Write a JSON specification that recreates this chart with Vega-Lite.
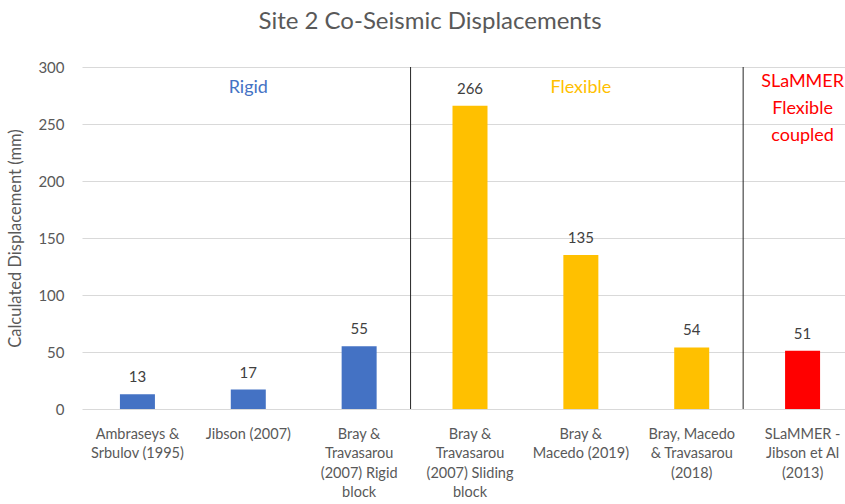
{
  "$schema": "https://vega.github.io/schema/vega-lite/v6.json",
  "autosize": "none",
  "width": 776,
  "height": 342,
  "padding": {"left": 82, "top": 67, "right": 0, "bottom": 95},
  "background": "white",
  "config": {
    "font": "Lato",
    "view": {"stroke": null},
    "axis": {"labelFont": "Lato", "titleFont": "Lato"}
  },
  "title": {
    "text": "Site 2 Co-Seismic Displacements",
    "fontSize": 24,
    "fontWeight": "normal",
    "color": "#595959",
    "anchor": "middle",
    "frame": "group",
    "dx": -40,
    "offset": 26
  },
  "datasets": {
    "bars": [
      {"method": "Ambraseys &|Srbulov (1995)", "group": "Rigid", "disp": 13},
      {"method": "Jibson (2007)", "group": "Rigid", "disp": 17},
      {"method": "Bray &|Travasarou|(2007) Rigid|block", "group": "Rigid", "disp": 55},
      {"method": "Bray &|Travasarou|(2007) Sliding|block", "group": "Flexible", "disp": 266},
      {"method": "Bray &|Macedo (2019)", "group": "Flexible", "disp": 135},
      {"method": "Bray, Macedo|& Travasarou|(2018)", "group": "Flexible", "disp": 54},
      {"method": "SLaMMER -|Jibson et Al|(2013)", "group": "SLaMMER", "disp": 51}
    ],
    "notes": [
      {"method": "Jibson (2007)", "group": "Rigid", "pos": 282, "note": "Rigid"},
      {"method": "Bray &|Macedo (2019)", "group": "Flexible", "pos": 282, "note": "Flexible"},
      {"method": "SLaMMER -|Jibson et Al|(2013)", "group": "SLaMMER", "pos": 287, "note": "SLaMMER|Flexible|coupled"}
    ],
    "seps": [
      {"method": "Bray &|Travasarou|(2007) Sliding|block"},
      {"method": "SLaMMER -|Jibson et Al|(2013)"}
    ]
  },
  "layer": [
    {
      "data": {"name": "bars"},
      "mark": {"type": "bar", "width": 35},
      "encoding": {
        "x": {
          "field": "method", "type": "nominal", "sort": null,
          "scale": {"paddingInner": 0, "paddingOuter": 0},
          "axis": {
            "title": null, "labelAngle": 0, "labelExpr": "split(datum.value, '|')",
            "labelFontSize": 14.5, "labelColor": "#595959", "labelLineHeight": 19.5,
            "labelPadding": 18, "ticks": false, "domain": false, "labelBaseline": "top"
          }
        },
        "y": {
          "field": "disp", "type": "quantitative",
          "scale": {"domain": [0, 300], "nice": false},
          "axis": {
            "title": "Calculated Displacement (mm)", "values": [0, 50, 100, 150, 200, 250, 300],
            "titleFontSize": 16.5, "titleFontWeight": "normal", "titleColor": "#595959", "titlePadding": 14,
            "labelFontSize": 15, "labelColor": "#595959", "labelPadding": 18,
            "ticks": false, "domain": false, "gridColor": "#D9D9D9", "gridWidth": 1
          }
        },
        "color": {
          "field": "group", "type": "nominal", "legend": null,
          "scale": {"domain": ["Rigid", "Flexible", "SLaMMER"], "range": ["#4472C4", "#FFC000", "#FF0000"]}
        }
      }
    },
    {
      "data": {"name": "bars"},
      "mark": {"type": "text", "baseline": "bottom", "dy": -9, "fontSize": 15, "color": "#404040"},
      "encoding": {
        "x": {"field": "method", "type": "nominal", "sort": null},
        "y": {"field": "disp", "type": "quantitative"},
        "text": {"field": "disp", "type": "quantitative"}
      }
    },
    {
      "data": {"name": "seps"},
      "mark": {"type": "rule", "color": "#262626", "strokeWidth": 1, "xOffset": -4},
      "encoding": {
        "x": {"field": "method", "type": "nominal", "sort": null, "bandPosition": 0},
        "y": {"datum": 0},
        "y2": {"datum": 300}
      }
    },
    {
      "data": {"name": "notes"},
      "mark": {"type": "text", "fontSize": 18, "lineBreak": "|", "lineHeight": 27, "baseline": "middle"},
      "encoding": {
        "x": {"field": "method", "type": "nominal", "sort": null},
        "y": {"field": "pos", "type": "quantitative"},
        "text": {"field": "note"},
        "color": {"field": "group", "type": "nominal", "legend": null}
      }
    }
  ]
}
